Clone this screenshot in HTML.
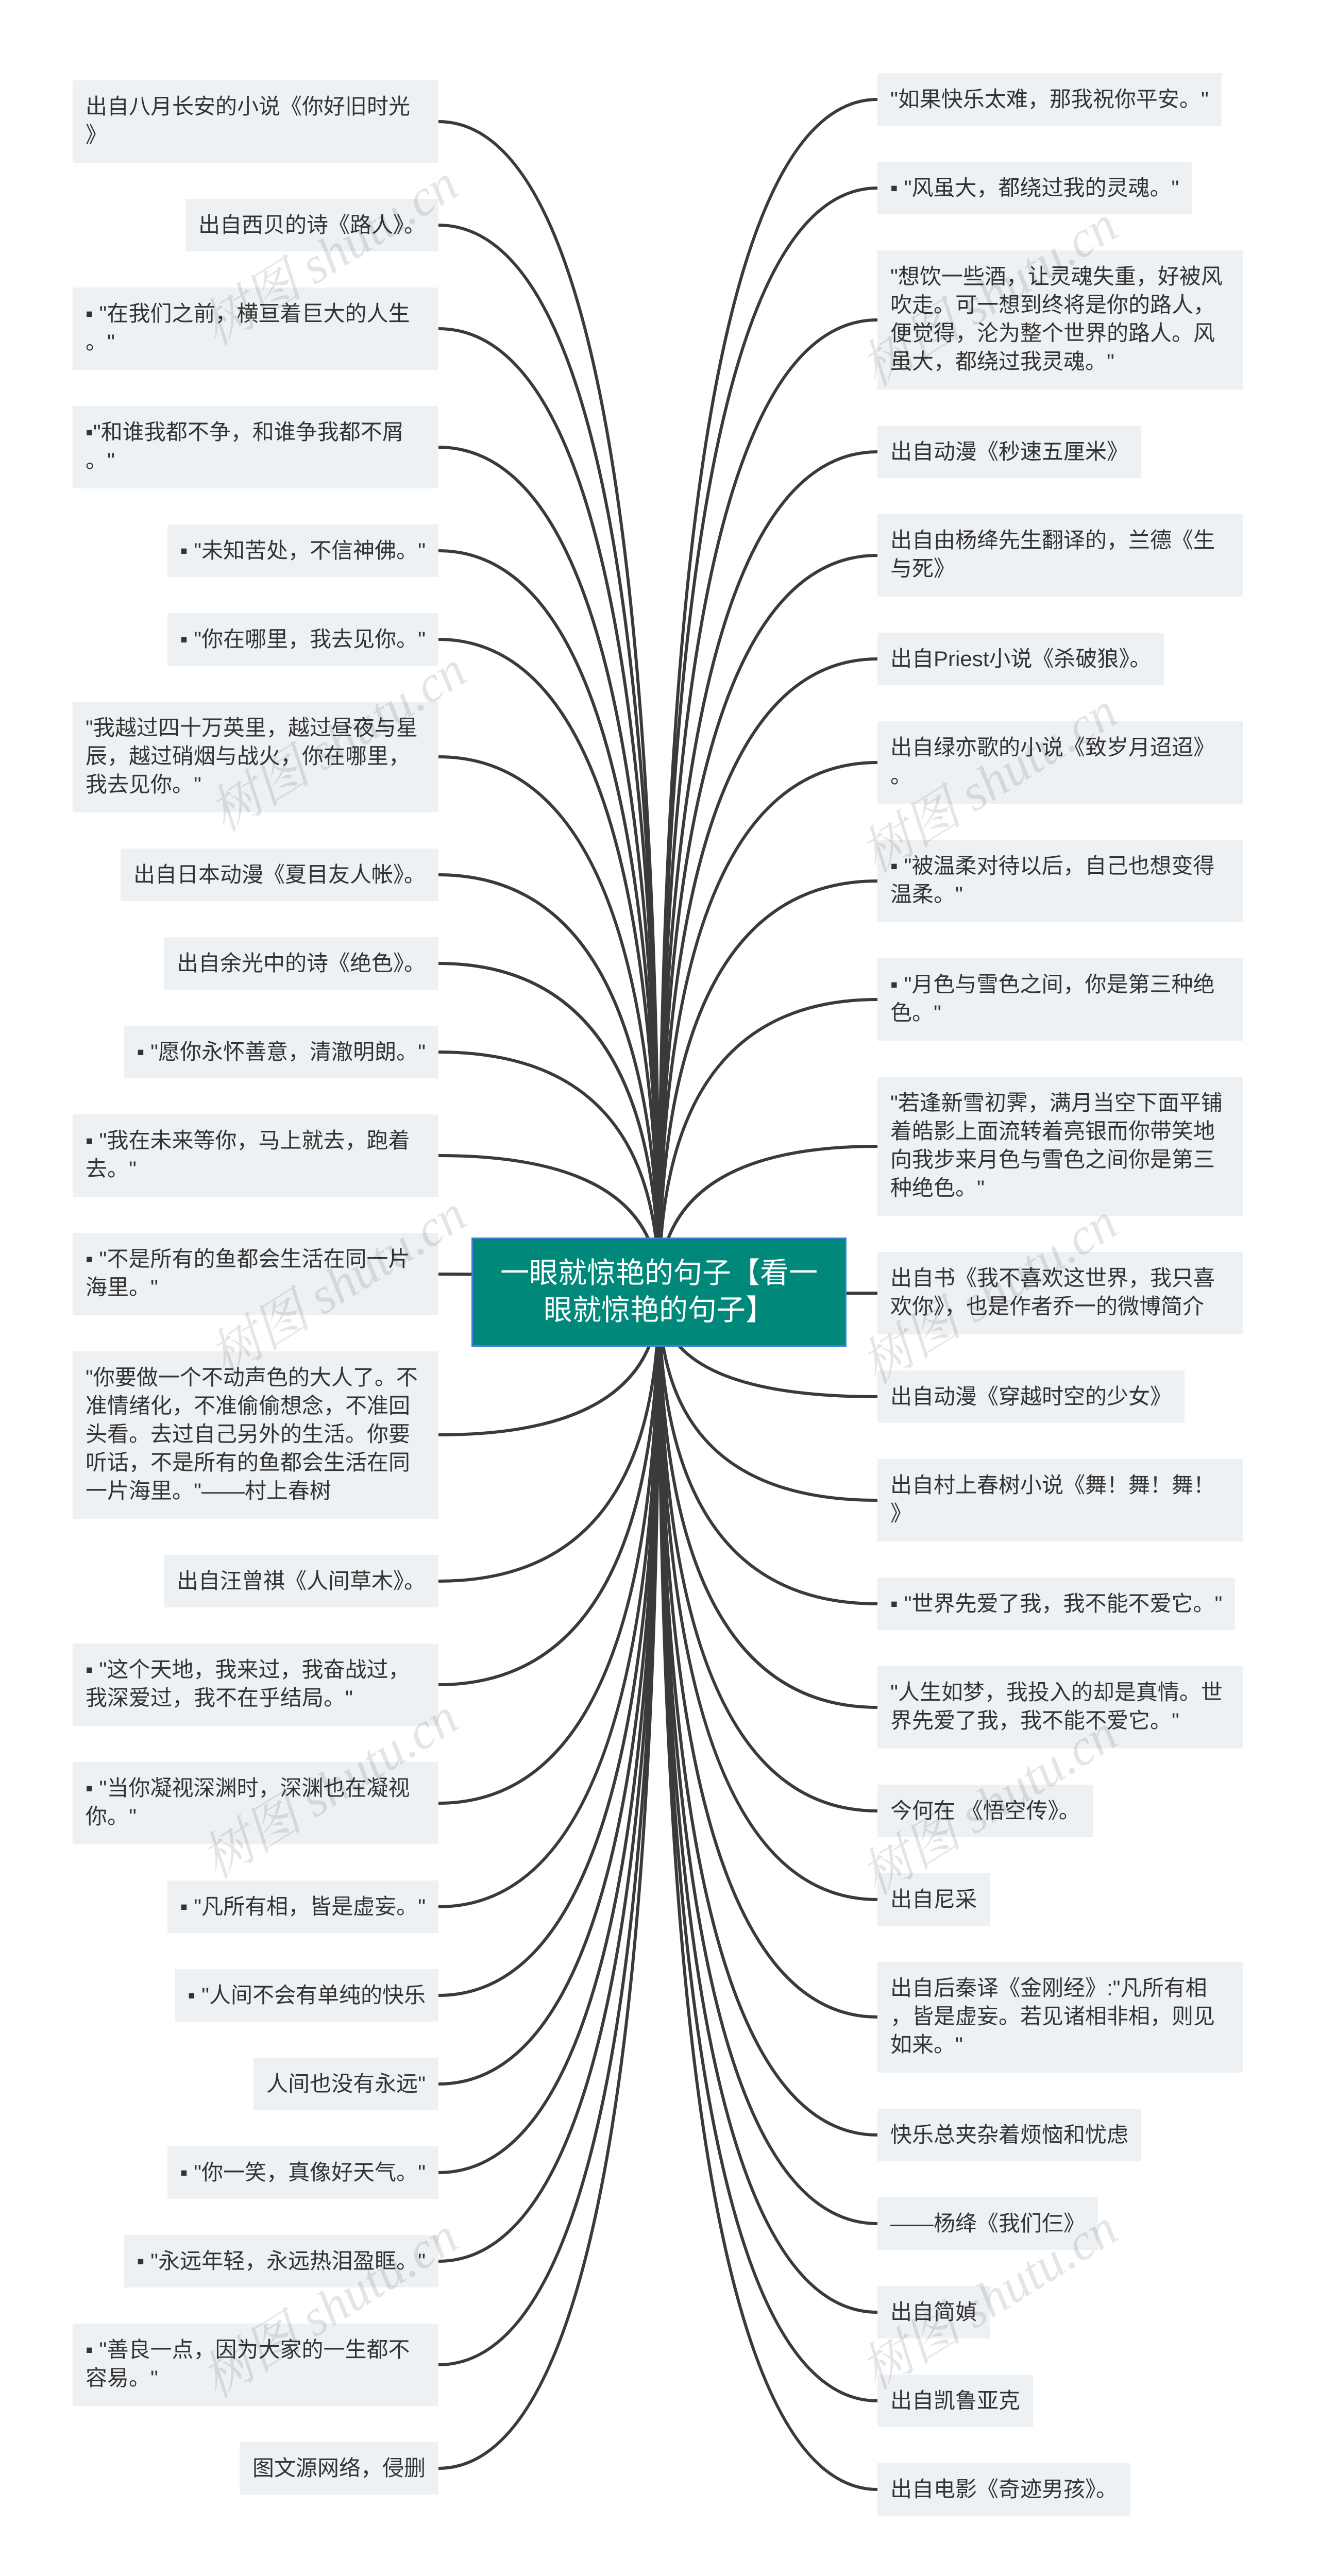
<!DOCTYPE html>
<html><head><meta charset="utf-8"><style>
html,body{margin:0;padding:0;background:#fff}
html{width:2560px;height:5029px;overflow:hidden}
body{width:2560px;height:5029px;position:relative;overflow:hidden;font-family:"Liberation Sans","Noto Sans CJK SC",sans-serif}
.b{position:absolute;background:#eef1f4;color:#333;font-size:42px;line-height:55px;padding:23px 25px 0 25px;box-sizing:border-box;white-space:nowrap;font-family:"Liberation Sans","Noto Sans CJK SC",sans-serif}
.l{right:1709px}
.r{left:1703px}
.w{width:710px}
.c{position:absolute;left:915px;top:2402px;width:728px;height:212px;background:#00897b;border:3px solid #3b7fd6;box-sizing:border-box;color:#fff;font-size:56px;line-height:72px;text-align:center;padding-top:30px}
.wm{position:absolute;font-family:"Liberation Serif","Noto Serif CJK SC",serif;font-style:italic;font-size:100px;color:rgba(0,0,0,0.10);transform:rotate(-32deg);white-space:nowrap;width:800px;text-align:center;line-height:120px}
</style></head><body>
<svg width="2560" height="5029" style="position:absolute;left:0;top:0" fill="none" stroke="#3a3a3a" stroke-width="6">
<g>
<path d="M851 236Q1279 236 1279 2508"/><path d="M851 437Q1279 437 1279 2508"/><path d="M851 638Q1279 638 1279 2508"/><path d="M851 868Q1279 868 1279 2508"/><path d="M851 1069Q1279 1069 1279 2508"/><path d="M851 1241Q1279 1241 1279 2508"/><path d="M851 1469Q1279 1469 1279 2508"/><path d="M851 1698Q1279 1698 1279 2508"/><path d="M851 1870Q1279 1870 1279 2508"/><path d="M851 2042Q1279 2042 1279 2508"/><path d="M851 2243Q1279 2243 1279 2508"/><path d="M851 2473Q1279 2473 1279 2508"/><path d="M851 2785Q1279 2785 1279 2508"/><path d="M851 3069Q1279 3069 1279 2508"/><path d="M851 3270Q1279 3270 1279 2508"/><path d="M851 3500Q1279 3500 1279 2508"/><path d="M851 3701Q1279 3701 1279 2508"/><path d="M851 3873Q1279 3873 1279 2508"/><path d="M851 4045Q1279 4045 1279 2508"/><path d="M851 4217Q1279 4217 1279 2508"/><path d="M851 4389Q1279 4389 1279 2508"/><path d="M851 4590Q1279 4590 1279 2508"/><path d="M851 4791Q1279 4791 1279 2508"/>
</g>
<g>
<path d="M1703 193Q1279 193 1279 2508"/><path d="M1703 365Q1279 365 1279 2508"/><path d="M1703 621Q1279 621 1279 2508"/><path d="M1703 877Q1279 877 1279 2508"/><path d="M1703 1078Q1279 1078 1279 2508"/><path d="M1703 1279Q1279 1279 1279 2508"/><path d="M1703 1480Q1279 1480 1279 2508"/><path d="M1703 1710Q1279 1710 1279 2508"/><path d="M1703 1940Q1279 1940 1279 2508"/><path d="M1703 2225Q1279 2225 1279 2508"/><path d="M1703 2510Q1279 2510 1279 2508"/><path d="M1703 2711Q1279 2711 1279 2508"/><path d="M1703 2912Q1279 2912 1279 2508"/><path d="M1703 3113Q1279 3113 1279 2508"/><path d="M1703 3314Q1279 3314 1279 2508"/><path d="M1703 3515Q1279 3515 1279 2508"/><path d="M1703 3687Q1279 3687 1279 2508"/><path d="M1703 3915Q1279 3915 1279 2508"/><path d="M1703 4144Q1279 4144 1279 2508"/><path d="M1703 4316Q1279 4316 1279 2508"/><path d="M1703 4488Q1279 4488 1279 2508"/><path d="M1703 4660Q1279 4660 1279 2508"/><path d="M1703 4832Q1279 4832 1279 2508"/>
</g>
</svg>

<div class="b l w" style="top:156px;height:160px">出自八月长安的小说《你好旧时光<br>》</div>
<div class="b l" style="top:386px;height:102px">出自西贝的诗《路人》。</div>
<div class="b l w" style="top:558px;height:160px">▪ "在我们之前，横亘着巨大的人生<br>。"</div>
<div class="b l w" style="top:788px;height:160px">▪"和谁我都不争，和谁争我都不屑<br>。"</div>
<div class="b l" style="top:1018px;height:102px">▪ "未知苦处，不信神佛。"</div>
<div class="b l" style="top:1190px;height:102px">▪ "你在哪里，我去见你。"</div>
<div class="b l w" style="top:1362px;height:215px">"我越过四十万英里，越过昼夜与星<br>辰，越过硝烟与战火，你在哪里，<br>我去见你。"</div>
<div class="b l" style="top:1647px;height:102px">出自日本动漫《夏目友人帐》。</div>
<div class="b l" style="top:1819px;height:102px">出自余光中的诗《绝色》。</div>
<div class="b l" style="top:1991px;height:102px">▪ "愿你永怀善意，清澈明朗。"</div>
<div class="b l w" style="top:2163px;height:160px">▪ "我在未来等你，马上就去，跑着<br>去。"</div>
<div class="b l w" style="top:2393px;height:160px">▪ "不是所有的鱼都会生活在同一片<br>海里。"</div>
<div class="b l w" style="top:2623px;height:325px">"你要做一个不动声色的大人了。不<br>准情绪化，不准偷偷想念，不准回<br>头看。去过自己另外的生活。你要<br>听话，不是所有的鱼都会生活在同<br>一片海里。"——村上春树</div>
<div class="b l" style="top:3018px;height:102px">出自汪曾祺《人间草木》。</div>
<div class="b l w" style="top:3190px;height:160px">▪ "这个天地，我来过，我奋战过，<br>我深爱过，我不在乎结局。"</div>
<div class="b l w" style="top:3420px;height:160px">▪ "当你凝视深渊时，深渊也在凝视<br>你。"</div>
<div class="b l" style="top:3650px;height:102px">▪ "凡所有相，皆是虚妄。"</div>
<div class="b l" style="top:3822px;height:102px">▪ "人间不会有单纯的快乐</div>
<div class="b l" style="top:3994px;height:102px">人间也没有永远"</div>
<div class="b l" style="top:4166px;height:102px">▪ "你一笑，真像好天气。"</div>
<div class="b l" style="top:4338px;height:102px">▪ "永远年轻，永远热泪盈眶。"</div>
<div class="b l w" style="top:4510px;height:160px">▪ "善良一点，因为大家的一生都不<br>容易。"</div>
<div class="b l" style="top:4740px;height:102px">图文源网络，侵删</div>

<div class="b r" style="top:142px;height:102px">"如果快乐太难，那我祝你平安。"</div>
<div class="b r" style="top:314px;height:102px">▪ "风虽大，都绕过我的灵魂。"</div>
<div class="b r w" style="top:486px;height:270px">"想饮一些酒，让灵魂失重，好被风<br>吹走。可一想到终将是你的路人，<br>便觉得，沦为整个世界的路人。风<br>虽大，都绕过我灵魂。"</div>
<div class="b r" style="top:826px;height:102px">出自动漫《秒速五厘米》</div>
<div class="b r w" style="top:998px;height:160px">出自由杨绛先生翻译的，兰德《生<br>与死》</div>
<div class="b r" style="top:1228px;height:102px">出自Priest小说《杀破狼》。</div>
<div class="b r w" style="top:1400px;height:160px">出自绿亦歌的小说《致岁月迢迢》<br>。</div>
<div class="b r w" style="top:1630px;height:160px">▪ "被温柔对待以后，自己也想变得<br>温柔。"</div>
<div class="b r w" style="top:1860px;height:160px">▪ "月色与雪色之间，你是第三种绝<br>色。"</div>
<div class="b r w" style="top:2090px;height:270px">"若逢新雪初霁，满月当空下面平铺<br>着皓影上面流转着亮银而你带笑地<br>向我步来月色与雪色之间你是第三<br>种绝色。"</div>
<div class="b r w" style="top:2430px;height:160px">出自书《我不喜欢这世界，我只喜<br>欢你》，也是作者乔一的微博简介</div>
<div class="b r" style="top:2660px;height:102px">出自动漫《穿越时空的少女》</div>
<div class="b r w" style="top:2832px;height:160px">出自村上春树小说《舞！舞！舞！<br>》</div>
<div class="b r" style="top:3062px;height:102px">▪ "世界先爱了我，我不能不爱它。"</div>
<div class="b r w" style="top:3234px;height:160px">"人生如梦，我投入的却是真情。世<br>界先爱了我，我不能不爱它。"</div>
<div class="b r" style="top:3464px;height:102px">今何在 《悟空传》。</div>
<div class="b r" style="top:3636px;height:102px">出自尼采</div>
<div class="b r w" style="top:3808px;height:215px">出自后秦译《金刚经》:"凡所有相<br>，皆是虚妄。若见诸相非相，则见<br>如来。"</div>
<div class="b r" style="top:4093px;height:102px">快乐总夹杂着烦恼和忧虑</div>
<div class="b r" style="top:4265px;height:102px">——杨绛《我们仨》</div>
<div class="b r" style="top:4437px;height:102px">出自简媜</div>
<div class="b r" style="top:4609px;height:102px">出自凯鲁亚克</div>
<div class="b r" style="top:4781px;height:102px">出自电影《奇迹男孩》。</div>

<div class="c">一眼就惊艳的句子【看一<br>眼就惊艳的句子】</div>

<div class="wm" style="left:240px;top:436px">树图 shutu.cn</div>
<div class="wm" style="left:1520px;top:516px">树图 shutu.cn</div>
<div class="wm" style="left:256px;top:1380px">树图 shutu.cn</div>
<div class="wm" style="left:1520px;top:1460px">树图 shutu.cn</div>
<div class="wm" style="left:256px;top:2436px">树图 shutu.cn</div>
<div class="wm" style="left:1520px;top:2452px">树图 shutu.cn</div>
<div class="wm" style="left:240px;top:3412px">树图 shutu.cn</div>
<div class="wm" style="left:1520px;top:3444px">树图 shutu.cn</div>
<div class="wm" style="left:240px;top:4420px">树图 shutu.cn</div>
<div class="wm" style="left:1520px;top:4404px">树图 shutu.cn</div>
</body></html>
